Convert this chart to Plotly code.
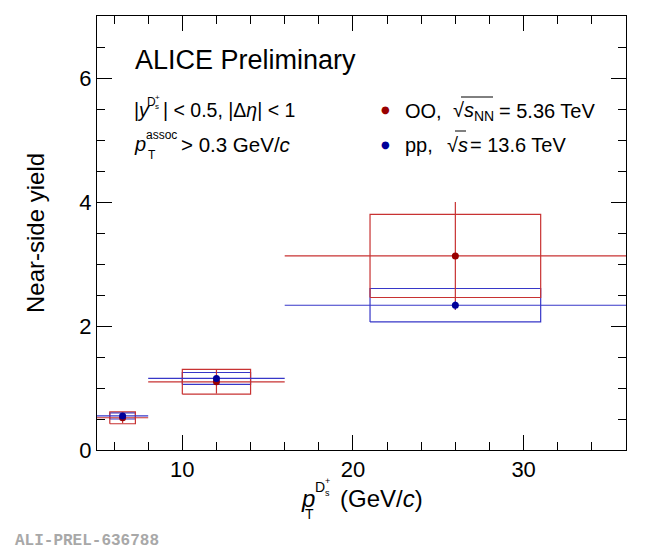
import plotly.graph_objects as go

# D_s+ pT bins (GeV/c)
pt_center = [6.5, 12.0, 26.0]
pt_halfbin = [1.5, 4.0, 10.0]
syst_halfwidth = [0.75, 2.0, 5.0]

# OO, sqrt(sNN) = 5.36 TeV
oo_yield = [0.52, 1.10, 3.13]
oo_stat = [0.09, 0.19, 0.87]
oo_syst = [0.097, 0.20, 0.67]

# pp, sqrt(s) = 13.6 TeV
pp_yield = [0.55, 1.155, 2.335]
pp_stat = [0.03, 0.05, 0.07]
pp_syst = [0.05, 0.095, 0.27]

OO_LINE, OO_MARK = "rgb(200,50,50)", "#990000"
PP_LINE, PP_MARK = "rgb(55,55,200)", "#000099"
FONT = "Liberation Sans"

# page has an 8px body margin, so the figure is 8px smaller than the window
OFF = 8
W, H = 650 - OFF, 551 - OFF
L, R, T, B = 97 - OFF, 24, 16 - OFF, 101
PW, PH = W - L - R, H - T - B


def px(x):
    return (x - OFF - L) / PW


def py(y):
    return (H - B - (y - OFF)) / PH


def box_path(xc, hw, yc, hy):
    xs, ys = [], []
    for c, w, y, h in zip(xc, hw, yc, hy):
        xs += [c - w, c + w, c + w, c - w, c - w, None]
        ys += [y - h, y - h, y + h, y + h, y - h, None]
    return xs, ys


fig = go.Figure()

# --- systematic boxes ---
for yv, sy, col in [(pp_yield, pp_syst, PP_LINE), (oo_yield, oo_syst, OO_LINE)]:
    bx, by = box_path(pt_center, syst_halfwidth, yv, sy)
    fig.add_trace(go.Scatter(x=bx, y=by, mode="lines", line=dict(color=col, width=1.2),
                             hoverinfo="skip", showlegend=False))

# --- points with stat errors ---
for yv, st, lc, mc in [(oo_yield, oo_stat, OO_LINE, OO_MARK), (pp_yield, pp_stat, PP_LINE, PP_MARK)]:
    fig.add_trace(go.Scatter(
        x=pt_center, y=yv, mode="markers",
        marker=dict(color=mc, size=7),
        error_x=dict(type="data", array=pt_halfbin, color=lc, thickness=1.2, width=0),
        error_y=dict(type="data", array=st, color=lc, thickness=1.2, width=0),
        showlegend=False,
    ))


def txt(x, y, s, size=20, anchor="left", color="black", family=FONT, **kw):
    fig.add_annotation(x=px(x), y=py(y), xref="paper", yref="paper", text=s,
                       showarrow=False, xanchor=anchor, yanchor="middle",
                       font=dict(size=size, color=color, family=family), **kw)


# header texts
txt(133, 60, "ALICE Preliminary", size=27)
txt(132, 110, "|<i>y</i>", size=19.5)
txt(145, 102, "D", size=12)
txt(153, 106, "s", size=8)
txt(153, 98, "+", size=8)
txt(161, 110, "| < 0.5, |Δ<i>η</i>| < 1", size=19.5)
txt(132, 144, "<i>p</i>", size=20)
txt(144, 135, "assoc", size=12)
txt(146, 155, "T", size=12)
txt(179, 144, "> 0.3 GeV/<i>c</i>", size=20.5)

# legend
txt(385, 109, "●", size=10, anchor="center", color=OO_MARK, family="DejaVu Sans")
txt(385, 144, "●", size=10, anchor="center", color=PP_MARK, family="DejaVu Sans")
txt(403, 111, "OO,")
txt(451, 111, "√<i>s</i><sub>NN</sub>")
txt(497, 111, "= 5.36 TeV")
txt(403, 145, "pp,")
txt(445, 145, "√<i>s</i>")
txt(468, 145, "= 13.6 TeV")
for x0, x1, yy in [(461, 493, 97), (455, 466, 131)]:
    fig.add_shape(type="line", xref="paper", yref="paper", x0=px(x0), x1=px(x1),
                  y0=py(yy), y1=py(yy), line=dict(color="black", width=1))

# axis titles
txt(299, 499, "<i>p</i>", size=24)
txt(303, 514, "T", size=14)
txt(313, 487, "D", size=14)
txt(323, 493, "s", size=9)
txt(323, 481, "+", size=9)
txt(338, 499, "(GeV/<i>c</i>)", size=24)
fig.add_annotation(x=px(35), y=py(233), xref="paper", yref="paper", text="Near-side yield",
                   textangle=-90, showarrow=False, xanchor="center", yanchor="middle",
                   font=dict(size=24, color="black", family=FONT))

# watermark
txt(13, 541, "<b>ALI-PREL-636788</b>", size=16, color="#a8a8a8", family="Liberation Mono")

axis_common = dict(showline=True, linecolor="black", linewidth=1, mirror="ticks",
                   ticks="inside", ticklen=15, tickcolor="black", showgrid=False,
                   zeroline=False, tickfont=dict(size=22, color="black", family=FONT))
fig.update_xaxes(range=[5, 36], tick0=0, dtick=10,
                 minor=dict(dtick=2, ticks="inside", ticklen=8, tickcolor="black"),
                 **axis_common)
fig.update_yaxes(range=[0, 7], tick0=0, dtick=2,
                 minor=dict(dtick=0.5, ticks="inside", ticklen=8, tickcolor="black"),
                 **axis_common)

fig.update_layout(
    width=W, height=H,
    margin=dict(l=L, r=R, t=T, b=B),
    plot_bgcolor="white", paper_bgcolor="white",
    font=dict(family=FONT, color="black"),
    showlegend=False,
)

fig.write_html("out.html")
